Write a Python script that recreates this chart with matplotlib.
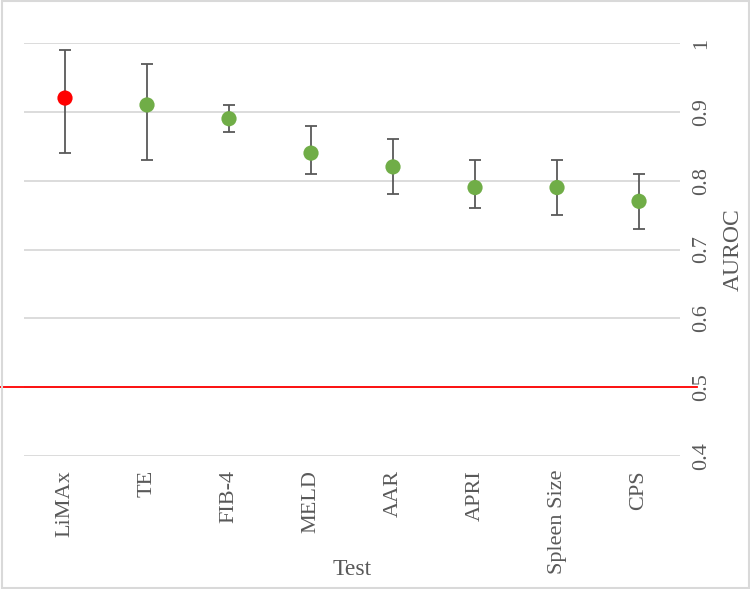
import matplotlib.pyplot as plt
from matplotlib.patches import Rectangle

# Data
tests = ["LiMAx", "TE", "FIB-4", "MELD", "AAR", "APRI", "Spleen Size", "CPS"]
auroc = [0.92, 0.91, 0.89, 0.84, 0.82, 0.79, 0.79, 0.77]
ci_low = [0.84, 0.83, 0.87, 0.81, 0.78, 0.76, 0.75, 0.73]
ci_high = [0.99, 0.97, 0.91, 0.88, 0.86, 0.83, 0.83, 0.81]
point_colors = ["#FF0000"] + ["#70AD47"] * 7
reference = 0.5
y_ticks = [0.4, 0.5, 0.6, 0.7, 0.8, 0.9, 1.0]
y_tick_labels = ["0.4", "0.5", "0.6", "0.7", "0.8", "0.9", "1"]

plt.rcParams['font.family'] = ['Liberation Serif', 'DejaVu Serif']
text_gray = "#595959"
grid_gray = "#D9D9D9"

fig = plt.figure(figsize=(7.5, 5.89), dpi=100)
ax = fig.add_axes([0.032, 0.2258, 0.8747, 0.7012])

x = list(range(len(tests)))
err = [[a - lo for a, lo in zip(auroc, ci_low)],
       [hi - a for a, hi in zip(auroc, ci_high)]]

# error bars first, then the dots on top
ax.errorbar(x, auroc, yerr=err, fmt="none", ecolor="#595959",
            elinewidth=1.3, capsize=4, capthick=1.3, zorder=2)
ax.scatter(x, auroc, s=120, c=point_colors, zorder=3, linewidths=0)

# red reference line runs past the plot area to the tick labels
ax.axhline(reference, xmin=-0.037, xmax=1.026, color="#FF0000",
           linewidth=1.3, clip_on=False, zorder=1.5)

ax.set_xlim(-0.5, len(tests) - 0.5)
ax.set_ylim(0.4, 1.0)
ax.set_yticks(y_ticks)
ax.set_yticklabels(y_tick_labels)
ax.yaxis.tick_right()
ax.set_xticks(x)
ax.set_xticklabels(tests, rotation=90)
ax.tick_params(axis="x", length=0, pad=10, labelsize=16, labelcolor=text_gray)
ax.tick_params(axis="y", length=0, pad=9, labelsize=16, labelcolor=text_gray,
               labelrotation=90)
for lab in ax.get_yticklabels():
    lab.set_va("center")

ax.grid(axis="y", color=grid_gray, linewidth=1.3)
ax.set_axisbelow(True)
for sp in ax.spines.values():
    sp.set_visible(False)

ax.set_xlabel("Test", fontsize=17, color=text_gray, va="center")
ax.xaxis.set_label_coords(0.5, -0.276)
ax.yaxis.set_label_position("right")
ax.set_ylabel("AUROC", fontsize=17, color=text_gray, rotation=90, va="center")
ax.yaxis.set_label_coords(1.081, 0.5)

# light border round the whole picture
fig.patches.append(Rectangle((0.002, 0.002), 0.996, 0.996, transform=fig.transFigure,
                             fill=False, edgecolor=grid_gray, linewidth=1.5))

fig.savefig("out.png", dpi=100)
